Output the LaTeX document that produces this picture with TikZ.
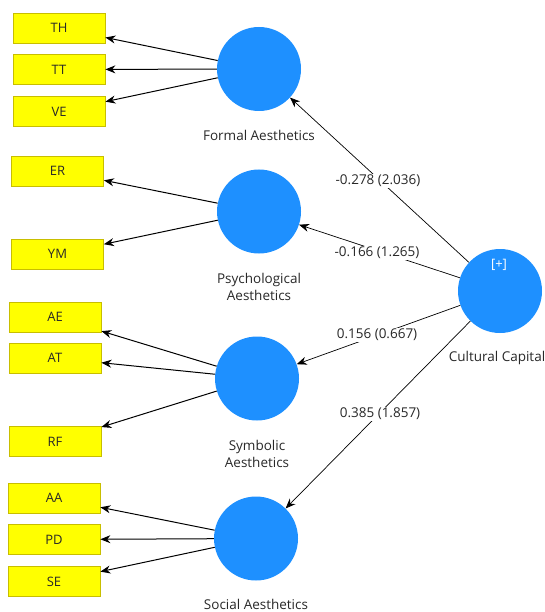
\documentclass[tikz,border=0pt]{standalone}
\usepackage{fontspec}
\setmainfont{Open Sans}
\usetikzlibrary{arrows.meta}
\definecolor{lvblue}{RGB}{30,144,255}
\definecolor{mvyellow}{RGB}{255,255,0}
\definecolor{mvborder}{RGB}{200,190,0}
\definecolor{txt}{RGB}{40,40,40}
\tikzset{
  ind/.style={draw=mvborder, fill=mvyellow, line width=0.8pt, minimum width=92pt, minimum height=30pt, inner sep=0pt, font=\fontsize{13}{15}\selectfont, text=txt},
  lv/.style={circle, fill=lvblue, draw=none, minimum size=84pt, inner sep=0pt},
  lvlabel/.style={font=\fontsize{13.5}{17}\selectfont, text=txt, align=center},
  pathlabel/.style={fill=white, inner sep=1.5pt, font=\fontsize{13.5}{15}\selectfont, text=txt},
  arr/.style={-{Stealth[length=10pt,width=8pt]}, line width=1pt, black},
}
\begin{document}
\begin{tikzpicture}[x=1pt,y=-1pt]
\useasboundingbox (0,0) rectangle (545,612);
% indicators
\node[ind] (TH) at (59,28) {TH};
\node[ind] (TT) at (59,69.5) {TT};
\node[ind] (VE) at (59,111.5) {VE};
\node[ind] (ER) at (57.5,171) {ER};
\node[ind] (YM) at (57.5,254) {YM};
\node[ind] (AE) at (55,317) {AE};
\node[ind] (AT) at (55,358) {AT};
\node[ind] (RF) at (55,441.5) {RF};
\node[ind] (AA) at (54,498) {AA};
\node[ind] (PD) at (54,539.5) {PD};
\node[ind] (SE) at (54,581.5) {SE};
% latent variables
\node[lv] (FA) at (259,69) {};
\node[lv] (PA) at (259,211.5) {};
\node[lv] (SA) at (257,378.5) {};
\node[lv] (SO) at (256,538.5) {};
\node[lv] (CC) at (500,291) {};
\node[font=\fontsize{13}{15}\selectfont, text=white] (plus) at (499,265) {[+]};
% labels
\node[lvlabel] (FAl) at (259,135) {Formal Aesthetics};
\node[lvlabel] (PAl) at (259,287) {Psychological\\Aesthetics};
\node[lvlabel] (SAl) at (257,454) {Symbolic\\Aesthetics};
\node[lvlabel] (SOl) at (256,604) {Social Aesthetics};
\node[lvlabel] (CCl) at (497,358) {Cultural Capital};
% outer loadings arrows
\draw[arr] (FA) -- (TH);
\draw[arr] (FA) -- (TT);
\draw[arr] (FA) -- (VE);
\draw[arr] (PA) -- (ER);
\draw[arr] (PA) -- (YM);
\draw[arr] (SA) -- (AE);
\draw[arr] (SA) -- (AT);
\draw[arr] (SA) -- (RF);
\draw[arr] (SO) -- (AA);
\draw[arr] (SO) -- (PD);
\draw[arr] (SO) -- (SE);
% structural paths
\draw[arr, line width=0.7pt] (CC) -- (FA);
\draw[arr, line width=0.7pt] (CC) -- (PA);
\draw[arr, line width=0.7pt] (CC) -- (SA);
\draw[arr, line width=0.7pt] (CC) -- (SO);
% path labels
\node[pathlabel] (p1) at (378,181) {-0.278 (2.036)};
\node[pathlabel] (p2) at (377,253) {-0.166 (1.265)};
\node[pathlabel] (p3) at (377,335) {0.156 (0.667)};
\node[pathlabel] (p4) at (380,414) {0.385 (1.857)};
\end{tikzpicture}
\end{document}
